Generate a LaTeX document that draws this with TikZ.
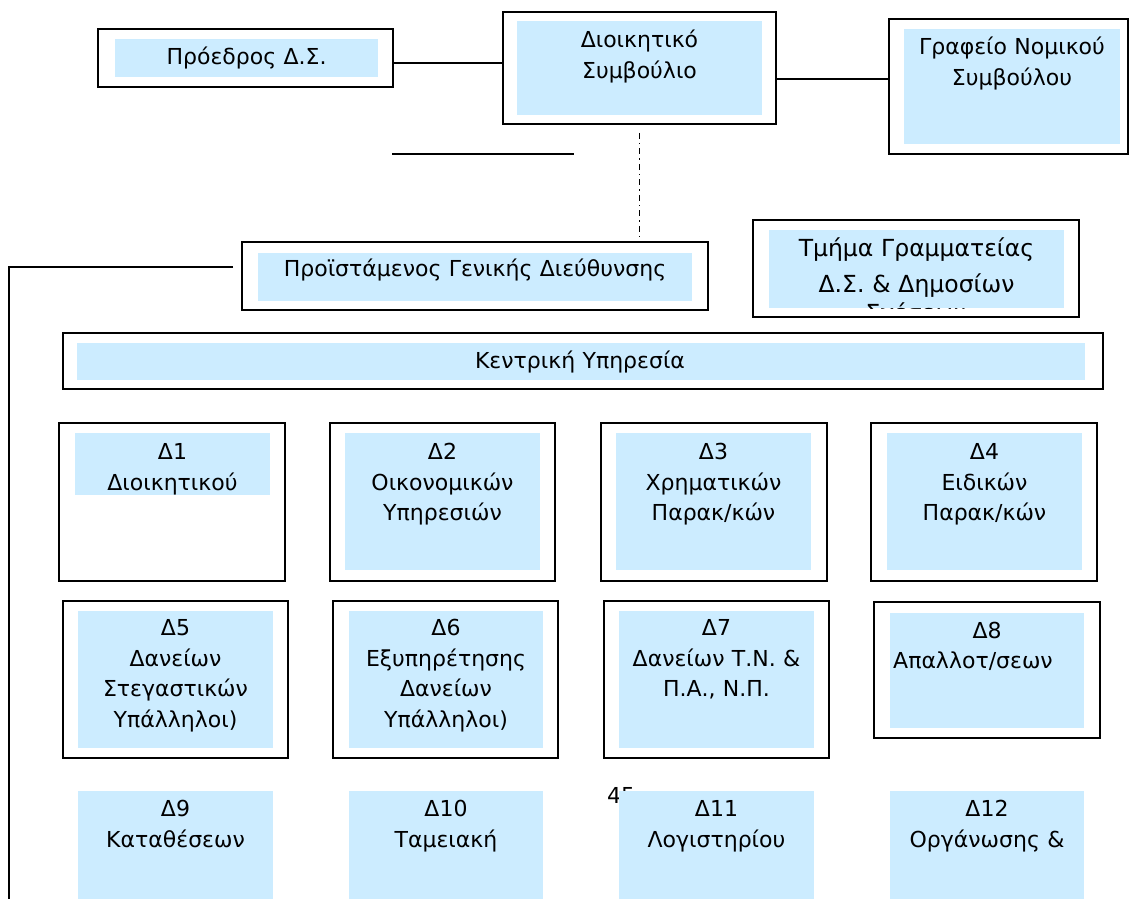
\documentclass[tikz,border=0pt]{standalone}
\usepackage{fontspec}
\setmainfont{DejaVu Sans}
\usepackage{tikz}
\usetikzlibrary{positioning, calc}
\definecolor{colorCell}{RGB}{204, 236, 255}
\tikzstyle{outerbox} = [rectangle, draw=black, line width=1.6pt, fill=white, inner sep=0pt]
\tikzstyle{cell} = [rectangle, fill=colorCell, inner sep=0pt]
\tikzstyle{boxtext} = [inner sep=0pt, align=center, anchor=base, font=\fontsize{22}{30.5}\selectfont]
\tikzstyle{link} = [line width=1.6pt]
\tikzstyle{dashdot} = [line width=1.3pt, dash pattern=on 6pt off 4pt on 1.5pt off 4pt]

\begin{document}
\begin{tikzpicture}[x=1pt, y=-1pt]

		\useasboundingbox (0,0) rectangle (1130,899);

		% board level
		\node (presFrame)[outerbox, minimum width=295pt, minimum height=58pt] at (245.5,58) {};
		\node (presCell)[cell, minimum width=263pt, minimum height=38pt] at (246.5,58) {};
		\node (presText)[boxtext, text width=263pt] at ([yshift=-6pt]presCell.center) {Πρόεδρος Δ.Σ.};

		\node (boardFrame)[outerbox, minimum width=273pt, minimum height=112pt] at (639.5,68) {};
		\node (boardCell)[cell, minimum width=245pt, minimum height=94pt] at (639.5,68) {};
		\node (boardText)[boxtext, text width=245pt] at ([yshift=-27pt]boardCell.north) {Διοικητικό\\Συμβούλιο};

		\node (legalFrame)[outerbox, minimum width=239pt, minimum height=135pt] at (1008.5,86.5) {};
		\node (legalCell)[cell, minimum width=216pt, minimum height=115pt] at (1012,86.5) {};
		\node (legalText)[boxtext, text width=216pt] at ([yshift=-26pt]legalCell.north) {Γραφείο Νομικού\\Συμβούλου};

		% general direction
		\node (chiefFrame)[outerbox, minimum width=466pt, minimum height=68pt] at (475,276) {};
		\node (chiefCell)[cell, minimum width=434pt, minimum height=48pt] at (475,277) {};
		\node (chiefText)[boxtext, text width=434pt] at (475,276) {Προϊστάμενος Γενικής Διεύθυνσης};

		\node (secFrame)[outerbox, minimum width=326pt, minimum height=97pt] at (916,268.5) {};
		\node (secCell)[cell, minimum width=295pt, minimum height=78pt] at (916.5,269) {};
		\node (secText)[boxtext, text width=295pt, font=\fontsize{23.5}{36}\selectfont] at ([yshift=-27pt]secCell.north) {Τμήμα Γραμματείας\\Δ.Σ. \& Δημοσίων};
		\begin{scope}
			\clip (secCell.north west) rectangle (secCell.south east);
			\node (secMore)[boxtext, font=\fontsize{23.5}{36}\selectfont] at ([yshift=-13pt]secCell.south) {Σχέσεων};
		\end{scope}

		\node (centralFrame)[outerbox, minimum width=1040pt, minimum height=56pt] at (583,361) {};
		\node (centralCell)[cell, minimum width=1008pt, minimum height=37pt] at (581,361.5) {};
		\node (centralText)[boxtext, text width=1008pt] at (580,368) {Κεντρική Υπηρεσία};

		% first row
		\node (d1Frame)[outerbox, minimum width=226pt, minimum height=158pt] at (172,502) {};
		\node (d1Cell)[cell, minimum width=195pt, minimum height=62pt] at (172.5,464) {};
		\node (d1Text)[boxtext, text width=195pt] at ([yshift=-27pt]d1Cell.north) {Δ1\\Διοικητικού};

		\node (d2Frame)[outerbox, minimum width=225pt, minimum height=158pt] at (442.5,502) {};
		\node (d2Cell)[cell, minimum width=195pt, minimum height=137pt] at (442.5,501.5) {};
		\node (d2Text)[boxtext, text width=195pt] at ([yshift=-27pt]d2Cell.north) {Δ2\\Οικονομικών\\Υπηρεσιών};

		\node (d3Frame)[outerbox, minimum width=226pt, minimum height=158pt] at (714,502) {};
		\node (d3Cell)[cell, minimum width=195pt, minimum height=137pt] at (713.5,501.5) {};
		\node (d3Text)[boxtext, text width=195pt] at ([yshift=-27pt]d3Cell.north) {Δ3\\Χρηματικών\\Παρακ/κών};

		\node (d4Frame)[outerbox, minimum width=226pt, minimum height=158pt] at (984,502) {};
		\node (d4Cell)[cell, minimum width=195pt, minimum height=137pt] at (984.5,501.5) {};
		\node (d4Text)[boxtext, text width=195pt] at ([yshift=-27pt]d4Cell.north) {Δ4\\Ειδικών\\Παρακ/κών};

		% second row
		\node (d5Frame)[outerbox, minimum width=225pt, minimum height=157pt] at (175.5,679.5) {};
		\node (d5Cell)[cell, minimum width=195pt, minimum height=137pt] at (175.5,679.5) {};
		\node (d5Text)[boxtext, text width=195pt] at ([yshift=-25pt]d5Cell.north) {Δ5\\Δανείων\\Στεγαστικών\\Υπάλληλοι)};

		\node (d6Frame)[outerbox, minimum width=225pt, minimum height=157pt] at (445.5,679.5) {};
		\node (d6Cell)[cell, minimum width=194pt, minimum height=137pt] at (446,679.5) {};
		\node (d6Text)[boxtext, text width=194pt] at ([yshift=-25pt]d6Cell.north) {Δ6\\Εξυπηρέτησης\\Δανείων\\Υπάλληλοι)};

		\node (d7Frame)[outerbox, minimum width=225pt, minimum height=157pt] at (716.5,679.5) {};
		\node (d7Cell)[cell, minimum width=195pt, minimum height=137pt] at (716.5,679.5) {};
		\node (d7Text)[boxtext, text width=195pt] at ([yshift=-25pt]d7Cell.north) {Δ7\\Δανείων Τ.Ν. \&\\Π.Α., Ν.Π.};

		\node (d8Frame)[outerbox, minimum width=226pt, minimum height=136pt] at (987,670) {};
		\node (d8Cell)[cell, minimum width=194pt, minimum height=115pt] at (987,670.5) {};
		\node (d8Text)[boxtext, text width=191pt, align=left, anchor=base west] at (893,638) {\makebox[188pt][c]{Δ8}\\Απαλλοτ/σεων};

		% third row
		\node (pageNo)[boxtext, anchor=base west] at (607,803) {45};

		\node (d9Cell)[cell, minimum width=195pt, minimum height=108pt] at (175.5,845) {};
		\node (d9Text)[boxtext, text width=195pt] at ([yshift=-26pt]d9Cell.north) {Δ9\\Καταθέσεων};

		\node (d10Cell)[cell, minimum width=194pt, minimum height=108pt] at (446,845) {};
		\node (d10Text)[boxtext, text width=194pt] at ([yshift=-26pt]d10Cell.north) {Δ10\\Ταμειακή};

		\node (d11Cell)[cell, minimum width=195pt, minimum height=108pt] at (716.5,845) {};
		\node (d11Text)[boxtext, text width=195pt] at ([yshift=-26pt]d11Cell.north) {Δ11\\Λογιστηρίου};

		\node (d12Cell)[cell, minimum width=194pt, minimum height=108pt] at (987,845) {};
		\node (d12Text)[boxtext, text width=194pt] at ([yshift=-26pt]d12Cell.north) {Δ12\\Οργάνωσης \&};

		% free ends
		\coordinate (stubLeft) at (392,154);
		\coordinate (stubRight) at (574,154);
		\coordinate (leftEnd) at (9,899);

		% lines
		\draw[link] ([yshift=-5pt]presFrame.east) -- ([yshift=-5pt]presFrame.east -| boardFrame.west);
		\draw[link] ([yshift=-11pt]boardFrame.east) -- ([yshift=-11pt]boardFrame.east -| legalFrame.west);
		\draw[link] (stubLeft) -- (stubRight);
		\draw[dashdot] ([yshift=-8pt]boardFrame.south) -- (boardFrame.south |- chiefFrame.north);
		\draw[link] ([xshift=-8pt, yshift=9pt]chiefFrame.west) -| (leftEnd);

	\end{tikzpicture}
\end{document}
